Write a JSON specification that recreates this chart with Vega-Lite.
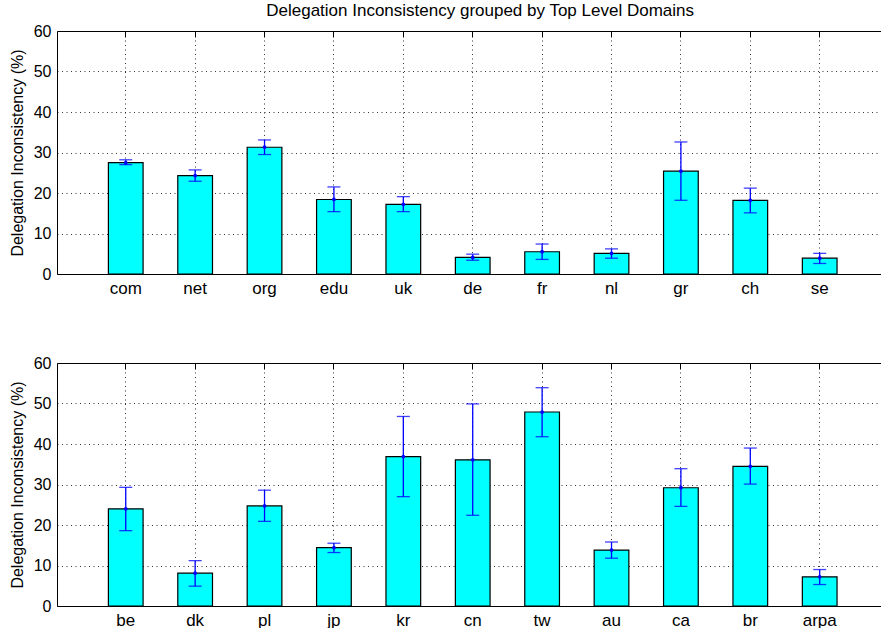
{
  "$schema": "https://vega.github.io/schema/vega-lite/v6.json",
  "background": "white",
  "padding": {"left": 9, "top": 2, "right": 0, "bottom": 0},
  "config": {"view": {"stroke": null}, "font": "Liberation Sans"},
  "title": {"text": "Delegation Inconsistency grouped by Top Level Domains", "font": "Liberation Sans", "fontSize": 17, "fontWeight": "normal", "color": "black", "anchor": "middle", "offset": 3, "dx": 35},
  "bounds": "flush",
  "spacing": 89,
  "datasets": {
    "d": [
      {"panel": "top", "tld": "com", "value": 27.5, "lo": 27.0, "hi": 28.2},
      {"panel": "top", "tld": "net", "value": 24.3, "lo": 22.9, "hi": 25.7},
      {"panel": "top", "tld": "org", "value": 31.3, "lo": 29.5, "hi": 33.1},
      {"panel": "top", "tld": "edu", "value": 18.4, "lo": 15.4, "hi": 21.5},
      {"panel": "top", "tld": "uk", "value": 17.2, "lo": 15.4, "hi": 19.1},
      {"panel": "top", "tld": "de", "value": 4.1, "lo": 3.4, "hi": 4.9},
      {"panel": "top", "tld": "fr", "value": 5.5, "lo": 3.6, "hi": 7.4},
      {"panel": "top", "tld": "nl", "value": 5.1, "lo": 3.9, "hi": 6.2},
      {"panel": "top", "tld": "gr", "value": 25.4, "lo": 18.2, "hi": 32.6},
      {"panel": "top", "tld": "ch", "value": 18.2, "lo": 15.1, "hi": 21.2},
      {"panel": "top", "tld": "se", "value": 3.9, "lo": 2.6, "hi": 5.1},
      {"panel": "bottom", "tld": "be", "value": 24.0, "lo": 18.6, "hi": 29.3},
      {"panel": "bottom", "tld": "dk", "value": 8.1, "lo": 4.9, "hi": 11.2},
      {"panel": "bottom", "tld": "pl", "value": 24.7, "lo": 20.9, "hi": 28.6},
      {"panel": "bottom", "tld": "jp", "value": 14.4, "lo": 13.2, "hi": 15.5},
      {"panel": "bottom", "tld": "kr", "value": 36.9, "lo": 27.0, "hi": 46.8},
      {"panel": "bottom", "tld": "cn", "value": 36.1, "lo": 22.4, "hi": 49.9},
      {"panel": "bottom", "tld": "tw", "value": 47.9, "lo": 41.8, "hi": 53.9},
      {"panel": "bottom", "tld": "au", "value": 13.8, "lo": 11.8, "hi": 15.8},
      {"panel": "bottom", "tld": "ca", "value": 29.2, "lo": 24.6, "hi": 33.9},
      {"panel": "bottom", "tld": "br", "value": 34.5, "lo": 30.1, "hi": 39.0},
      {"panel": "bottom", "tld": "arpa", "value": 7.2, "lo": 5.3, "hi": 9.0}
    ]
  },
  "vconcat": [
    {
      "width": 824,
      "height": 243,
      "data": {"name": "d"},
      "transform": [{"filter": "datum.panel == 'top'"}],
      "resolve": {"axis": {"x": "independent"}},
      "layer": [
        {
          "mark": {"type": "bar", "fill": "#00ffff", "stroke": "black", "strokeWidth": 1.2},
          "encoding": {
            "x": {"field": "tld", "type": "nominal", "sort": null, "scale": {"paddingInner": 0.5, "paddingOuter": 0.687, "align": 0.539},
                  "axis": {"orient": "bottom", "title": null, "labelAngle": 0, "labelFontSize": 17, "labelColor": "black", "labelPadding": 6, "ticks": false, "grid": true, "gridColor": "black", "gridDash": [1, 3.5], "gridWidth": 1, "gridOpacity": 0.8, "bandPosition": 0.5, "domainColor": "black", "domainWidth": 1}},
            "y": {"field": "value", "type": "quantitative", "title": "Delegation Inconsistency (%)", "scale": {"domain": [0, 60], "nice": false},
                  "axis": {"values": [0, 10, 20, 30, 40, 50, 60], "grid": true, "gridColor": "black", "gridDash": [1, 3.5], "gridWidth": 1, "gridOpacity": 0.8, "ticks": false, "domainColor": "black", "domainWidth": 1, "labelFontSize": 16, "labelColor": "black", "labelPadding": 6, "titleFontSize": 16, "titleFontWeight": "normal", "titleColor": "black", "titlePadding": 8}}
          }
        },
        {
          "mark": {"type": "rule", "color": "#0000ff", "strokeWidth": 1.3},
          "encoding": {
            "x": {"field": "tld", "type": "nominal", "sort": null,
                  "axis": {"orient": "top", "title": null, "labels": false, "grid": false, "ticks": true, "tickSize": -6, "tickColor": "black", "bandPosition": 0.5, "domainColor": "black", "domainWidth": 1}},
            "y": {"field": "lo", "type": "quantitative", "title": "Delegation Inconsistency (%)"},
            "y2": {"field": "hi"}
          }
        },
        {
          "mark": {"type": "tick", "color": "#0000ff", "opacity": 0.75, "size": 13, "thickness": 1.3},
          "encoding": {
            "x": {"field": "tld", "type": "nominal", "sort": null, "axis": null},
            "y": {"field": "lo", "type": "quantitative", "title": "Delegation Inconsistency (%)"}
          }
        },
        {
          "mark": {"type": "tick", "color": "#0000ff", "opacity": 0.75, "size": 13, "thickness": 1.3},
          "encoding": {
            "x": {"field": "tld", "type": "nominal", "sort": null, "axis": null},
            "y": {"field": "hi", "type": "quantitative", "title": "Delegation Inconsistency (%)"}
          }
        },
        {
          "mark": {"type": "point", "filled": true, "color": "#0000ff", "size": 14, "opacity": 1},
          "encoding": {
            "x": {"field": "tld", "type": "nominal", "sort": null, "axis": null},
            "y": {"field": "value", "type": "quantitative", "title": "Delegation Inconsistency (%)"}
          }
        }
      ]
    },
    {
      "width": 824,
      "height": 243,
      "data": {"name": "d"},
      "transform": [{"filter": "datum.panel == 'bottom'"}],
      "resolve": {"axis": {"x": "independent"}},
      "layer": [
        {
          "mark": {"type": "bar", "fill": "#00ffff", "stroke": "black", "strokeWidth": 1.2},
          "encoding": {
            "x": {"field": "tld", "type": "nominal", "sort": null, "scale": {"paddingInner": 0.5, "paddingOuter": 0.687, "align": 0.539},
                  "axis": {"orient": "bottom", "title": null, "labelAngle": 0, "labelFontSize": 17, "labelColor": "black", "labelPadding": 6, "ticks": false, "grid": true, "gridColor": "black", "gridDash": [1, 3.5], "gridWidth": 1, "gridOpacity": 0.8, "bandPosition": 0.5, "domainColor": "black", "domainWidth": 1}},
            "y": {"field": "value", "type": "quantitative", "title": "Delegation Inconsistency (%)", "scale": {"domain": [0, 60], "nice": false},
                  "axis": {"values": [0, 10, 20, 30, 40, 50, 60], "grid": true, "gridColor": "black", "gridDash": [1, 3.5], "gridWidth": 1, "gridOpacity": 0.8, "ticks": false, "domainColor": "black", "domainWidth": 1, "labelFontSize": 16, "labelColor": "black", "labelPadding": 6, "titleFontSize": 16, "titleFontWeight": "normal", "titleColor": "black", "titlePadding": 8}}
          }
        },
        {
          "mark": {"type": "rule", "color": "#0000ff", "strokeWidth": 1.3},
          "encoding": {
            "x": {"field": "tld", "type": "nominal", "sort": null,
                  "axis": {"orient": "top", "title": null, "labels": false, "grid": false, "ticks": true, "tickSize": -6, "tickColor": "black", "bandPosition": 0.5, "domainColor": "black", "domainWidth": 1}},
            "y": {"field": "lo", "type": "quantitative", "title": "Delegation Inconsistency (%)"},
            "y2": {"field": "hi"}
          }
        },
        {
          "mark": {"type": "tick", "color": "#0000ff", "opacity": 0.75, "size": 13, "thickness": 1.3},
          "encoding": {
            "x": {"field": "tld", "type": "nominal", "sort": null, "axis": null},
            "y": {"field": "lo", "type": "quantitative", "title": "Delegation Inconsistency (%)"}
          }
        },
        {
          "mark": {"type": "tick", "color": "#0000ff", "opacity": 0.75, "size": 13, "thickness": 1.3},
          "encoding": {
            "x": {"field": "tld", "type": "nominal", "sort": null, "axis": null},
            "y": {"field": "hi", "type": "quantitative", "title": "Delegation Inconsistency (%)"}
          }
        },
        {
          "mark": {"type": "point", "filled": true, "color": "#0000ff", "size": 14, "opacity": 1},
          "encoding": {
            "x": {"field": "tld", "type": "nominal", "sort": null, "axis": null},
            "y": {"field": "value", "type": "quantitative", "title": "Delegation Inconsistency (%)"}
          }
        }
      ]
    }
  ]
}
